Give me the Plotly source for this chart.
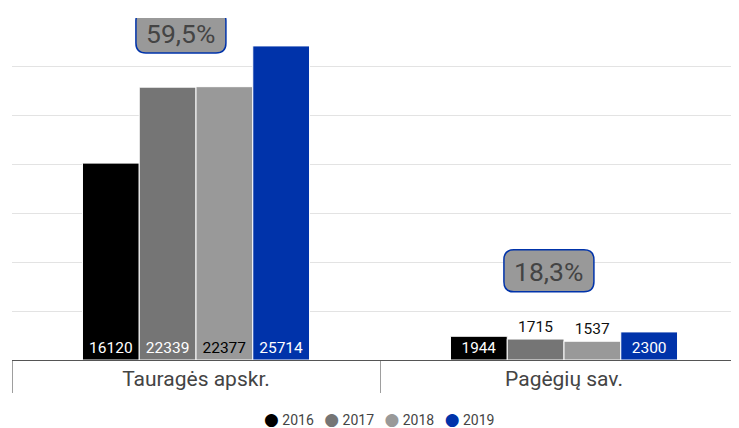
import plotly.graph_objects as go

# data
regions = ['Tauragės apskr.', 'Pagėgių sav.']
years = ['2016', '2017', '2018', '2019']
values = {
    '2016': [16120, 1944],
    '2017': [22339, 1715],
    '2018': [22377, 1537],
    '2019': [25714, 2300],
}
colors = {'2016': '#000000', '2017': '#757575', '2018': '#999999', '2019': '#0033aa'}
label_colors = {'2016': 'white', '2017': 'white', '2018': 'black', '2019': 'white'}
# where each value label sits (Google-chart style: outside when the bar is too low)
label_pos = {
    '2016': ['inside', 'inside'],
    '2017': ['inside', 'outside'],
    '2018': ['inside', 'outside'],
    '2019': ['inside', 'inside'],
}
growth = ['59,5%', '18,3%']
growth_y = [26850, 7300]

FONT = 'Roboto'

fig = go.Figure()

for yr in years:
    fig.add_trace(go.Bar(
        x=regions,
        y=values[yr],
        name=yr,
        marker=dict(color=colors[yr], line=dict(color='white', width=1)),
        text=[str(v) for v in values[yr]],
        textposition=label_pos[yr],
        insidetextanchor='start',
        insidetextfont=dict(family=FONT, size=15.5, color=label_colors[yr]),
        outsidetextfont=dict(family=FONT, size=15.5, color='#111111'),
        textangle=0,
        cliponaxis=False,
        showlegend=False,
    ))

# rounded label boxes with growth figures
box = ('M -35,-21 L 35,-21 Q 45,-21 45,-11 L 45,11 Q 45,21 35,21 '
       'L -35,21 Q -45,21 -45,11 L -45,-11 Q -45,-21 -35,-21 Z')
for i, (txt, yv) in enumerate(zip(growth, growth_y)):
    fig.add_shape(
        type='path',
        xref='x', yref='y',
        xsizemode='pixel', ysizemode='pixel',
        xanchor=i - 0.041, yanchor=yv,
        path=box,
        fillcolor='#999999',
        line=dict(color='#0033aa', width=1.5),
        layer='above',
    )
    fig.add_annotation(
        x=i - 0.041, y=yv, xref='x', yref='y', yshift=-1,
        text=txt, showarrow=False,
        font=dict(family=FONT, size=26.5, color='#444444'),
    )

# compact legend with round markers, as one line of text
legend_txt = '&nbsp;&nbsp;&nbsp;'.join(
    f"<span style=\"color:{colors[yr]};font-family:'DejaVu Sans';font-size:17px\">●</span>&nbsp;{yr}"
    for yr in years
)
fig.add_annotation(
    x=0.505, y=-0.1725, xref='paper', yref='paper',
    xanchor='center', yanchor='middle',
    text=legend_txt, showarrow=False,
    font=dict(family=FONT, size=14, color='#444444'),
)

# page body has an 8px margin, so the figure is 8px smaller and shifted
fig.update_layout(
    width=731, height=420,
    margin=dict(l=4, r=0, t=10, b=68, autoexpand=False),
    paper_bgcolor='white', plot_bgcolor='white',
    barmode='group', bargap=0.383, bargroupgap=0,
    font=dict(family=FONT, color='#444444'),
    showlegend=False,
    xaxis=dict(
        range=[-0.5, 1.4755], automargin=False,
        tickson='boundaries', ticks='outside', ticklen=32, tickcolor='#9e9e9e',
        showline=True, linecolor='#555555', linewidth=1,
        tickfont=dict(family=FONT, size=21, color='#444444'),
        showgrid=False,
    ),
    yaxis=dict(
        range=[0, 28000], dtick=4000, automargin=False,
        showticklabels=False, gridcolor='#e3e3e3', zeroline=False,
    ),
)

fig.write_html('out.html')
